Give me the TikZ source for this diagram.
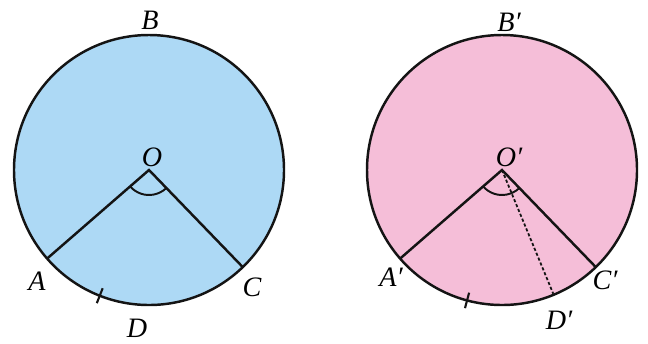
\documentclass[tikz,border=0pt]{standalone}
\usepackage{fontspec}
\setmainfont{Liberation Serif}
\usetikzlibrary{calc}
\definecolor{skyfill}{RGB}{173, 217, 245}
\definecolor{pinkfill}{RGB}{245, 190, 216}
\definecolor{inkline}{RGB}{20, 20, 20}

\begin{document}
\begin{tikzpicture}[x=0.02cm, y=0.02cm,
            disc/.style={draw=inkline, line width=1.4pt},
            radius line/.style={draw=inkline, line width=1.4pt},
            angle mark/.style={draw=inkline, line width=1.1pt},
            tick mark/.style={draw=inkline, line width=1.2pt},
            dotted radius/.style={draw=inkline, line width=1pt, dash pattern=on 1.8pt off 1.2pt},
            lbl/.style={inner sep=0pt, font=\fontsize{16}{18}\selectfont\itshape}
        ]
            \useasboundingbox (0,0) rectangle (648,343);

            % Left circle
            \coordinate (O) at (149,173);
            \fill[skyfill] (O) circle (135);
            \draw[disc] (O) circle (135);
            \coordinate (A) at ($(O)+(221:135)$);
            \coordinate (C) at ($(O)+(314:135)$);
            \draw[radius line] (A) -- (O) -- (C);
            \draw[angle mark] ($(O)+(221:25)$) arc (221:314:25);
            \draw[tick mark] ($(O)+(248.6:127)$) -- ($(O)+(248.6:143)$);

            \node[lbl] (labB) at (150,323) {B};
            \node[lbl] (labO) at (152,186) {O};
            \node[lbl] (labA) at (37,62) {A};
            \node[lbl] (labC) at (252,56) {C};
            \node[lbl] (labD) at (137,15) {D};

            % Right circle
            \coordinate (O2) at (502,173);
            \fill[pinkfill] (O2) circle (135);
            \draw[disc] (O2) circle (135);
            \coordinate (A2) at ($(O2)+(221:135)$);
            \coordinate (C2) at ($(O2)+(314:135)$);
            \coordinate (D2) at ($(O2)+(292.5:134)$);
            \draw[radius line] (A2) -- (O2) -- (C2);
            \draw[dotted radius] (O2) -- (D2);
            \draw[angle mark] ($(O2)+(221:25)$) arc (221:314:25);
            \draw[tick mark] ($(O2)+(255:127)$) -- ($(O2)+(255:143)$);

            \node[lbl] (labB2) at (509,321) {B′};
            \node[lbl] (labO2) at (509,186) {O′};
            \node[lbl] (labA2) at (391,66) {A′};
            \node[lbl] (labC2) at (605,63) {C′};
            \node[lbl] (labD2) at (559,23) {D′};
        \end{tikzpicture}
\end{document}
